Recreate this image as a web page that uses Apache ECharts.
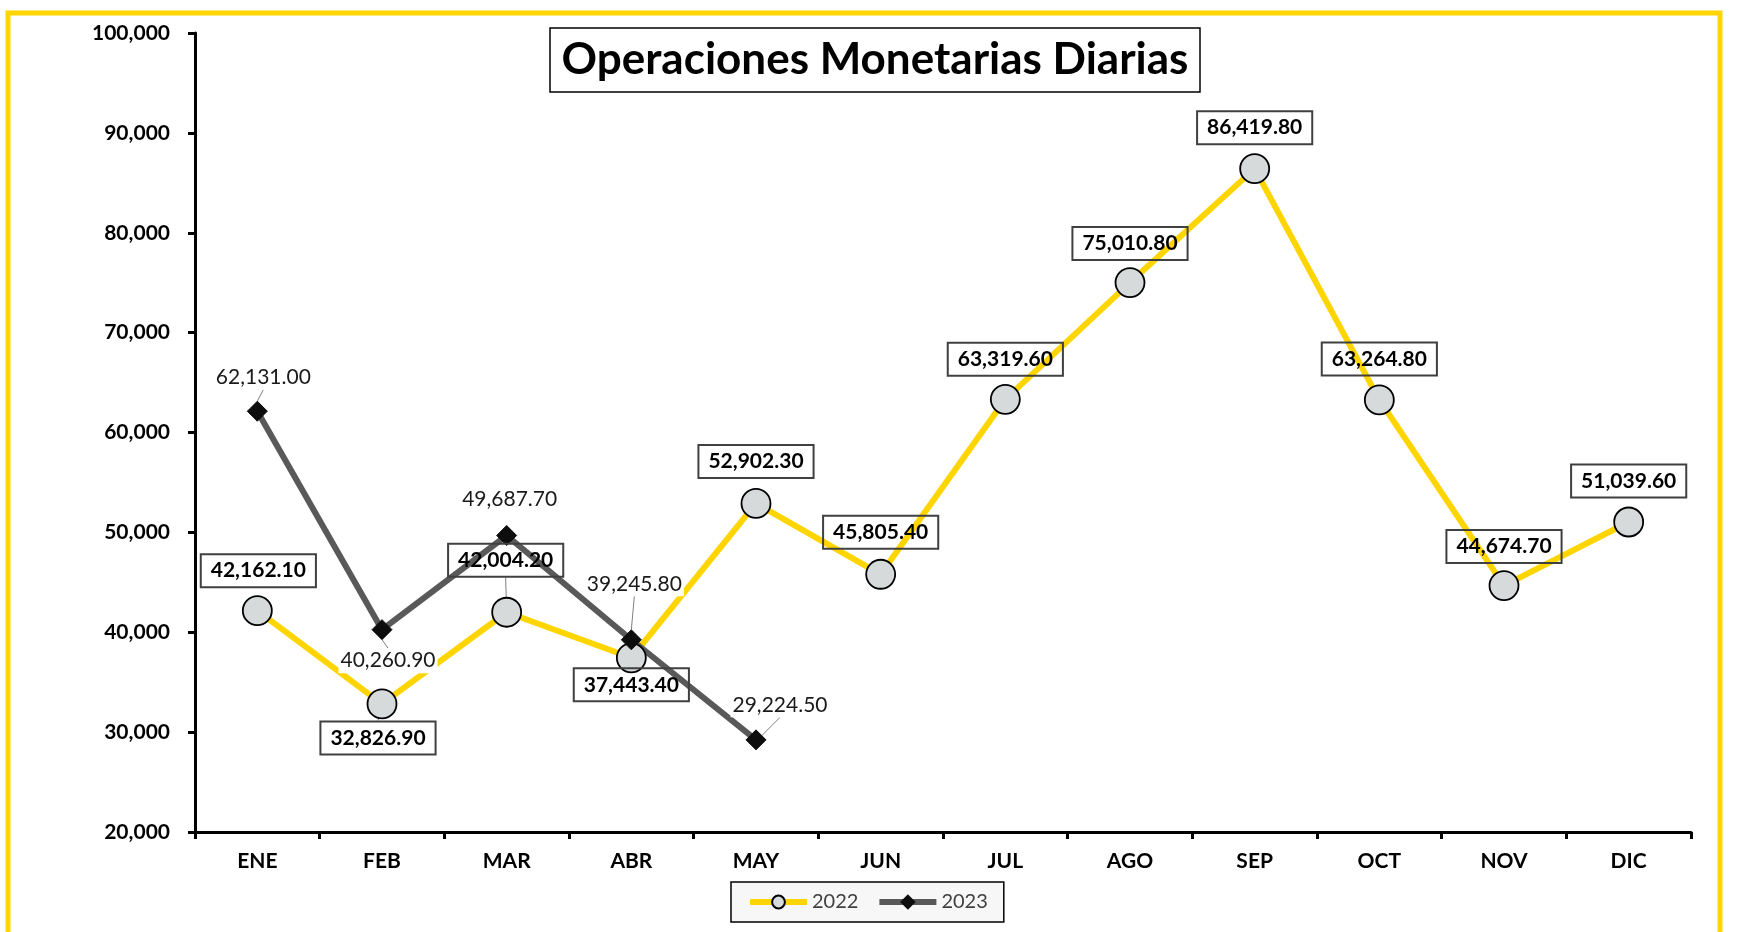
<!DOCTYPE html>
<html>
<head>
<meta charset="utf-8">
<title>Operaciones Monetarias Diarias</title>
<script src="https://cdn.jsdelivr.net/npm/echarts@6/dist/echarts.min.js"></script>
<style>
  html, body { margin: 0; padding: 0; background: #fff; }
  #chart { width: 1750px; height: 932px; }
</style>
</head>
<body>
<div id="chart"></div>
<script>
  // datos
  const meses = ['ENE', 'FEB', 'MAR', 'ABR', 'MAY', 'JUN', 'JUL', 'AGO', 'SEP', 'OCT', 'NOV', 'DIC'];
  const ops2022 = [42162.10, 32826.90, 42004.20, 37443.40, 52902.30, 45805.40, 63319.60, 75010.80, 86419.80, 63264.80, 44674.70, 51039.60];
  const ops2023 = [62131.00, 40260.90, 49687.70, 39245.80, 29224.50];
  const yMin = 20000, yMax = 100000, yStep = 10000;

  // posiciones de etiquetas (desplazamiento respecto al punto) y lineas guia
  const off2022 = [[1, -40], [-4, 34], [-1, -52], [0, 27], [0, -42], [0, -42], [0, -40], [0, -39], [0, -41], [0, -41], [0, -39], [0, -41]];
  const off2023 = [[6, -34], [6, 31], [3, -36], [3, -56], [24, -35]];
  const guia2022 = [false, true, true, false, false, false, false, false, false, false, false, false];
  const guia2023 = [true, true, false, true, true];

  const FONT = 'Lato';
  const fmt = v => v.toLocaleString('en-US', { minimumFractionDigits: 2, maximumFractionDigits: 2 });

  const chart = echarts.init(document.getElementById('chart'));

  chart.setOption({
    backgroundColor: '#fff',
    animation: false,
    graphic: [{
      type: 'rect',
      shape: { x: 8, y: 13, width: 1712, height: 1000 },
      style: { fill: 'none', stroke: '#FFD500', lineWidth: 5 },
      z: -1
    }],
    title: {
      text: 'Operaciones Monetarias Diarias',
      left: 'center',
      top: 28,
      padding: [8, 12],
      borderColor: '#000',
      borderWidth: 1.5,
      backgroundColor: '#fff',
      textStyle: { fontFamily: FONT, fontSize: 44, fontWeight: 'bold', color: '#000', lineHeight: 48 }
    },
    legend: {
      data: ['2022', '2023'],
      left: 731,
      top: 882,
      padding: [10, 16],
      itemGap: 18,
      itemWidth: 57,
      itemHeight: 16,
      borderColor: '#000',
      borderWidth: 1.5,
      backgroundColor: '#F7F7F7',
      lineStyle: { width: 6 },
      textStyle: { fontFamily: FONT, fontSize: 20, color: '#404040' }
    },
    grid: { left: 195, right: 59, top: 33, bottom: 100 },
    xAxis: {
      type: 'category',
      data: meses,
      axisLine: { lineStyle: { color: '#000', width: 3 } },
      axisTick: { show: true, length: 7, lineStyle: { color: '#000', width: 3 } },
      axisLabel: { fontFamily: FONT, fontSize: 21, fontWeight: 'bold', color: '#000', margin: 19 },
      splitLine: { show: false }
    },
    yAxis: {
      type: 'value',
      min: yMin,
      max: yMax,
      interval: yStep,
      axisLine: { show: true, lineStyle: { color: '#000', width: 3 } },
      axisTick: { show: true, length: 7, lineStyle: { color: '#000', width: 3 } },
      axisLabel: {
        fontFamily: FONT, fontSize: 21, fontWeight: 'bold', color: '#000', margin: 25,
        formatter: v => v.toLocaleString('en-US')
      },
      splitLine: { show: false }
    },
    series: [
      {
        name: '2022',
        type: 'line',
        z: 2,
        data: ops2022.map((v, i) => ({ value: v, labelLine: { show: guia2022[i] } })),
        symbol: 'circle',
        symbolSize: 29,
        lineStyle: { color: '#FFD500', width: 6 },
        itemStyle: { color: '#D6DADB', borderColor: '#000', borderWidth: 1.8 },
        label: {
          show: true,
          position: 'inside',
          formatter: p => fmt(p.value),
          fontFamily: FONT, fontSize: 21, fontWeight: 'bold', color: '#000',
          backgroundColor: 'transparent',
          borderColor: '#404040',
          borderWidth: 1,
          padding: [7, 10, 5, 10]
        },
        labelLine: { lineStyle: { color: '#7F7F7F', width: 1 } },
        labelLayout: p => ({ dx: off2022[p.dataIndex][0], dy: off2022[p.dataIndex][1] })
      },
      {
        name: '2023',
        type: 'line',
        z: 2,
        data: ops2023.map((v, i) => ({ value: v, labelLine: { show: guia2023[i] } })),
        symbol: 'diamond',
        symbolSize: 20,
        lineStyle: { color: '#595959', width: 6 },
        itemStyle: { color: '#0D0D0D', borderColor: '#0D0D0D', borderWidth: 1 },
        label: {
          show: true,
          position: 'inside',
          formatter: p => fmt(p.value),
          fontFamily: FONT, fontSize: 21, color: '#1A1A1A',
          backgroundColor: '#fff',
          padding: [2, 2]
        },
        labelLine: { lineStyle: { color: '#7F7F7F', width: 1 } },
        labelLayout: p => ({ dx: off2023[p.dataIndex][0], dy: off2023[p.dataIndex][1] })
      }
    ]
  });
</script>
</body>
</html>
